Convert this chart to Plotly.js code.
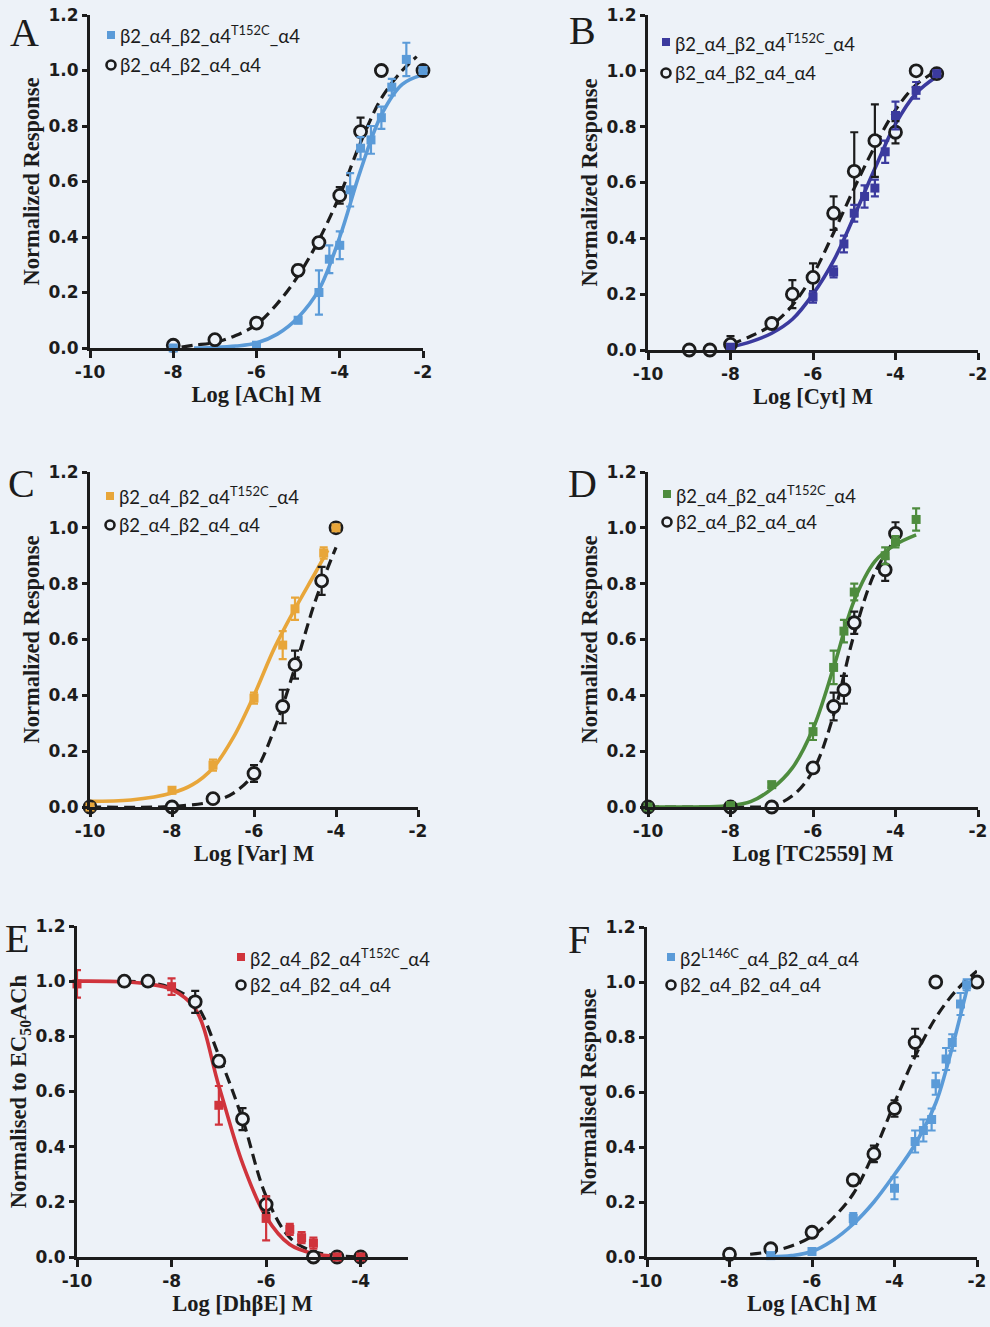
<!DOCTYPE html>
<html>
<head>
<meta charset="utf-8">
<script src="https://cdn.plot.ly/plotly-3.0.1.min.js"></script>
<style>html,body{margin:0;padding:0;background:#edf2f8;}#chart{width:990px;height:1327px;}</style>
</head>
<body>
<div id="chart"></div>
<script>
// ---------- DATA ----------
// Panel A : ACh
const A_wt_x  = [-8, -7, -6, -5, -4.5, -4, -3.5, -3, -2];
const A_wt_y  = [0.01, 0.03, 0.09, 0.28, 0.38, 0.55, 0.78, 1.0, 1.0];
const A_wt_e  = [0.005, 0.01, 0.01, 0.02, 0.02, 0.03, 0.05, 0, 0];
const A_mu_x  = [-8, -6, -5, -4.5, -4.25, -4, -3.75, -3.5, -3.25, -3, -2.75, -2.4, -2];
const A_mu_y  = [0.0, 0.01, 0.10, 0.20, 0.32, 0.37, 0.57, 0.72, 0.75, 0.83, 0.94, 1.04, 1.0];
const A_mu_e  = [0.005, 0.005, 0.01, 0.08, 0.05, 0.05, 0.06, 0.04, 0.05, 0.04, 0.03, 0.06, 0];
const A_wtfit_x = [-7.8, -7.5, -7, -6.5, -6, -5.5, -5, -4.5, -4, -3.5, -3, -2.5, -2.15];
const A_wtfit_y = [0.003, 0.01, 0.02, 0.045, 0.085, 0.16, 0.26, 0.39, 0.55, 0.74, 0.90, 1.0, 1.05];
const A_mufit_x = [-7.5, -7, -6.5, -6, -5.5, -5, -4.5, -4, -3.5, -3, -2.5, -2];
const A_mufit_y = [0, 0.002, 0.007, 0.018, 0.05, 0.11, 0.21, 0.40, 0.64, 0.84, 0.95, 0.985];

// Panel B : Cyt
const B_wt_x  = [-9, -8.5, -8, -7, -6.5, -6, -5.5, -5, -4.5, -4, -3.5, -3];
const B_wt_y  = [0, 0, 0.02, 0.095, 0.20, 0.26, 0.49, 0.64, 0.75, 0.78, 1.0, 0.99];
const B_wt_e  = [0, 0, 0.03, 0.01, 0.05, 0.05, 0.06, 0.14, 0.13, 0.04, 0, 0];
const B_mu_x  = [-8, -6, -5.5, -5.25, -5, -4.75, -4.5, -4.25, -4, -3.5, -3];
const B_mu_y  = [0.01, 0.19, 0.28, 0.38, 0.49, 0.55, 0.58, 0.71, 0.84, 0.93, 0.99];
const B_mu_e  = [0.01, 0.02, 0.02, 0.03, 0.03, 0.04, 0.03, 0.04, 0.05, 0.03, 0.01];
const B_wtfit_x = [-8, -7.5, -7, -6.5, -6, -5.5, -5, -4.5, -4, -3.5, -3];
const B_wtfit_y = [0.02, 0.05, 0.09, 0.16, 0.27, 0.42, 0.58, 0.73, 0.86, 0.95, 1.0];
const B_mufit_x = [-8, -7.5, -7, -6.5, -6, -5.5, -5, -4.5, -4, -3.5, -3];
const B_mufit_y = [0.01, 0.03, 0.06, 0.11, 0.20, 0.32, 0.48, 0.65, 0.81, 0.92, 0.98];

// Panel C : Var
const C_wt_x  = [-10, -8, -7, -6, -5.3, -5, -4.35, -4];
const C_wt_y  = [0, 0, 0.03, 0.12, 0.36, 0.51, 0.81, 1.0];
const C_wt_e  = [0, 0, 0.005, 0.03, 0.06, 0.05, 0.05, 0];
const C_mu_x  = [-10, -8, -7, -6, -5.3, -5, -4.3, -4];
const C_mu_y  = [0, 0.06, 0.15, 0.39, 0.58, 0.71, 0.91, 1.0];
const C_mu_e  = [0, 0.01, 0.02, 0.02, 0.05, 0.04, 0.02, 0];
const C_wtfit_x = [-10, -8, -7, -6.5, -6, -5.5, -5, -4.5, -4];
const C_wtfit_y = [0, 0.002, 0.02, 0.05, 0.12, 0.28, 0.50, 0.74, 0.93];
const C_mufit_x = [-10, -9, -8, -7.5, -7, -6.5, -6, -5.5, -5, -4.5, -4.2];
const C_mufit_y = [0.02, 0.025, 0.05, 0.08, 0.14, 0.25, 0.40, 0.57, 0.71, 0.84, 0.92];

// Panel D : TC2559
const D_wt_x  = [-10, -8, -7, -6, -5.5, -5.25, -5, -4.25, -4];
const D_wt_y  = [0, 0, 0, 0.14, 0.36, 0.42, 0.66, 0.85, 0.98];
const D_wt_e  = [0, 0, 0, 0.01, 0.05, 0.05, 0.04, 0.04, 0.04];
const D_mu_x  = [-10, -8, -7, -6, -5.5, -5.25, -5, -4.25, -4, -3.5];
const D_mu_y  = [0, 0.005, 0.08, 0.27, 0.50, 0.63, 0.77, 0.90, 0.95, 1.03];
const D_mu_e  = [0, 0, 0.01, 0.03, 0.06, 0.04, 0.03, 0.03, 0.02, 0.04];
const D_wtfit_x = [-10, -8, -7, -6.5, -6, -5.5, -5, -4.5, -4, -3.9];
const D_wtfit_y = [0, 0, 0.005, 0.04, 0.13, 0.33, 0.62, 0.84, 0.96, 0.98];
const D_mufit_x = [-10, -8, -7.5, -7, -6.5, -6, -5.5, -5, -4.5, -4, -3.5];
const D_mufit_y = [0, 0.005, 0.02, 0.065, 0.14, 0.28, 0.50, 0.74, 0.88, 0.94, 0.975];

// Panel E : DhβE inhibition
const E_wt_x  = [-9, -8.5, -7.5, -7, -6.5, -6, -5, -4.5, -4];
const E_wt_y  = [1.0, 1.0, 0.925, 0.71, 0.50, 0.19, 0.0, 0.0, 0.0];
const E_wt_e  = [0, 0, 0.04, 0.02, 0.04, 0.03, 0, 0, 0];
const E_mu_x  = [-10, -8, -7, -6, -5.5, -5.25, -5, -4.5, -4];
const E_mu_y  = [0.99, 0.98, 0.55, 0.14, 0.10, 0.07, 0.05, 0.0, 0.0];
const E_mu_e  = [0.05, 0.03, 0.07, 0.08, 0.02, 0.02, 0.02, 0, 0];
const E_wtfit_x = [-9, -8.5, -8, -7.5, -7, -6.5, -6, -5.5, -5, -4.5, -4];
const E_wtfit_y = [1.0, 0.995, 0.975, 0.92, 0.73, 0.50, 0.22, 0.07, 0.02, 0.005, 0.0];
const E_mufit_x = [-10, -9, -8.5, -8, -7.5, -7, -6.5, -6, -5.5, -5, -4.5];
const E_mufit_y = [1.0, 0.998, 0.99, 0.97, 0.90, 0.62, 0.34, 0.145, 0.045, 0.012, 0.003];

// Panel F : ACh, β2 L146C
const F_wt_x  = [-8, -7, -6, -5, -4.5, -4, -3.5, -3, -2];
const F_wt_y  = [0.01, 0.03, 0.09, 0.28, 0.375, 0.54, 0.78, 1.0, 1.0];
const F_wt_e  = [0.005, 0.01, 0.01, 0.02, 0.03, 0.03, 0.05, 0, 0];
const F_mu_x  = [-7, -6, -5, -4, -3.5, -3.3, -3.1, -3, -2.75, -2.6, -2.4, -2.25];
const F_mu_y  = [0.005, 0.02, 0.14, 0.25, 0.42, 0.46, 0.50, 0.63, 0.72, 0.78, 0.92, 0.99];
const F_mu_e  = [0, 0.005, 0.02, 0.04, 0.04, 0.04, 0.04, 0.04, 0.04, 0.03, 0.04, 0.02];
const F_wtfit_x = [-7.5, -7, -6.5, -6, -5.5, -5, -4.5, -4, -3.5, -3, -2.5, -2];
const F_wtfit_y = [0.01, 0.02, 0.04, 0.075, 0.14, 0.23, 0.38, 0.56, 0.73, 0.87, 0.97, 1.04];
const F_mufit_x = [-7, -6.5, -6, -5.5, -5, -4.5, -4, -3.5, -3, -2.75, -2.5, -2.25, -2.2];
const F_mufit_y = [0, 0.005, 0.02, 0.06, 0.12, 0.20, 0.30, 0.41, 0.56, 0.68, 0.82, 0.97, 1.0];

// Labels and ticks
const panelLetters = ['A', 'B', 'C', 'D', 'E', 'F'];
const xTitles = ['Log [ACh] M', 'Log [Cyt] M', 'Log [Var] M', 'Log [TC2559] M', 'Log [DhβE] M', 'Log [ACh] M'];
const yTitles = ['Normalized Response', 'Normalized Response', 'Normalized Response', 'Normalized Response',
                 'Normalised to EC<sub>50</sub>ACh', 'Normalised Response'];
const mutantNames = ['β2_α4_β2_α4<sup>T152C</sup>_α4', 'β2_α4_β2_α4<sup>T152C</sup>_α4', 'β2_α4_β2_α4<sup>T152C</sup>_α4',
                     'β2_α4_β2_α4<sup>T152C</sup>_α4', 'β2_α4_β2_α4<sup>T152C</sup>_α4', 'β2<sup>L146C</sup>_α4_β2_α4_α4'];
const wtName = 'β2_α4_β2_α4_α4';
const xTickVals = [-10, -8, -6, -4, -2];
const xTickText = ['-10', '-8', '-6', '-4', '-2'];
const yTickVals = [0, 0.2, 0.4, 0.6, 0.8, 1.0, 1.2];
const yTickText = ['0.0', '0.2', '0.4', '0.6', '0.8', '1.0', '1.2'];

// ---------- STYLE / LAYOUT ----------
const W = 990, H = 1327;
const BG = '#edf2f8';
const INK = '#1c1c1c';
const mutColors = ['#5b9bd8', '#3b3a9e', '#e8a63a', '#4e8c3e', '#d0343c', '#5b9bd8'];

// pixel boxes of plot areas [left, right, top, bottom] and x range
const boxes = [
  {l: 90,  r: 423, t: 15,  b: 348,  xr: [-10, -2]},
  {l: 648, r: 978, t: 15,  b: 350,  xr: [-10, -2]},
  {l: 90,  r: 418, t: 472, b: 807,  xr: [-10, -2]},
  {l: 648, r: 978, t: 472, b: 807,  xr: [-10, -2]},
  {l: 77,  r: 408, t: 926, b: 1257, xr: [-10, -3]},
  {l: 647, r: 977, t: 927, b: 1257, xr: [-10, -2]}
];
const letterPos = [[24, 28], [582, 26], [21, 480], [582, 479], [17, 934], [579, 935]];
// legend: [markerX, row1Y, row2Y]
const legPos = [[111, 35, 65], [666, 42, 73], [110, 496, 525], [667, 494, 522], [241, 957, 985], [671, 957, 985]];

const sets = [
  [A_wt_x, A_wt_y, A_wt_e, A_mu_x, A_mu_y, A_mu_e, A_wtfit_x, A_wtfit_y, A_mufit_x, A_mufit_y],
  [B_wt_x, B_wt_y, B_wt_e, B_mu_x, B_mu_y, B_mu_e, B_wtfit_x, B_wtfit_y, B_mufit_x, B_mufit_y],
  [C_wt_x, C_wt_y, C_wt_e, C_mu_x, C_mu_y, C_mu_e, C_wtfit_x, C_wtfit_y, C_mufit_x, C_mufit_y],
  [D_wt_x, D_wt_y, D_wt_e, D_mu_x, D_mu_y, D_mu_e, D_wtfit_x, D_wtfit_y, D_mufit_x, D_mufit_y],
  [E_wt_x, E_wt_y, E_wt_e, E_mu_x, E_mu_y, E_mu_e, E_wtfit_x, E_wtfit_y, E_mufit_x, E_mufit_y],
  [F_wt_x, F_wt_y, F_wt_e, F_mu_x, F_mu_y, F_mu_e, F_wtfit_x, F_wtfit_y, F_mufit_x, F_mufit_y]
];

const px = x => x / W;
const py = y => 1 - y / H;

const traces = [];
const layout = {
  width: W, height: H,
  margin: {l: 0, r: 0, t: 0, b: 0},
  paper_bgcolor: BG, plot_bgcolor: BG,
  showlegend: false,
  annotations: [], shapes: []
};

const tickFont = {family: 'DejaVu Sans', size: 17, weight: 'bold', color: INK};
const titleFont = {family: 'Liberation Serif', size: 22.5, weight: 'bold', color: INK};
const legFont = {family: 'Lato', size: 18.5, color: INK};

sets.forEach((s, i) => {
  const [wx, wy, we, mx, my, me, wfx, wfy, mfx, mfy] = s;
  const n = i === 0 ? '' : String(i + 1);
  const xa = 'x' + n, ya = 'y' + n;
  const col = mutColors[i];
  const bx = boxes[i];

  traces.push({x: wfx, y: wfy, xaxis: xa, yaxis: ya, mode: 'lines', type: 'scatter',
    line: {color: INK, width: 3.2, dash: '11px,6px', shape: 'spline', smoothing: 1}, hoverinfo: 'skip', cliponaxis: false});
  traces.push({x: mfx, y: mfy, xaxis: xa, yaxis: ya, mode: 'lines', type: 'scatter',
    line: {color: col, width: 3.6, shape: 'spline', smoothing: 1}, hoverinfo: 'skip', cliponaxis: false});
  traces.push({x: wx, y: wy, xaxis: xa, yaxis: ya, mode: 'markers', type: 'scatter', name: wtName,
    error_y: {type: 'data', array: we, visible: true, color: INK, thickness: 2.2, width: 4},
    marker: {symbol: 'circle', size: 12, color: BG, line: {color: INK, width: 2.8}}, cliponaxis: false});
  traces.push({x: mx, y: my, xaxis: xa, yaxis: ya, mode: 'markers', type: 'scatter', name: mutantNames[i],
    error_y: {type: 'data', array: me, visible: true, color: col, thickness: 2.2, width: 4},
    marker: {symbol: 'square', size: 9, color: col, line: {width: 0}}, cliponaxis: false});

  layout['xaxis' + n] = {
    domain: [px(bx.l), px(bx.r)], anchor: ya, range: bx.xr, tickvals: xTickVals, ticktext: xTickText,
    showline: true, linewidth: 3, linecolor: INK, ticks: 'outside', ticklen: 7, tickwidth: 3, tickcolor: INK,
    showgrid: false, zeroline: false, tickfont: tickFont, fixedrange: true, ticklabeloverflow: 'allow',
    title: {text: xTitles[i], font: titleFont, standoff: 5}
  };
  layout['yaxis' + n] = {
    domain: [py(bx.b), py(bx.t)], anchor: xa, range: [0, 1.2], tickvals: yTickVals, ticktext: yTickText,
    showline: true, linewidth: 3, linecolor: INK, ticks: 'outside', ticklen: 5, tickwidth: 3, tickcolor: INK,
    showgrid: false, zeroline: false, tickfont: tickFont, fixedrange: true, ticklabeloverflow: 'allow',
    title: {text: yTitles[i], font: titleFont, standoff: 3}
  };

  // panel letter
  layout.annotations.push({text: panelLetters[i], xref: 'paper', yref: 'paper',
    x: px(letterPos[i][0]), y: py(letterPos[i][1] + 4), xanchor: 'center', yanchor: 'middle', showarrow: false,
    font: {family: 'Liberation Serif', size: 40, color: INK}});

  // legend
  const [lx, r1, r2] = legPos[i];
  layout.shapes.push({type: 'rect', xref: 'paper', yref: 'paper',
    x0: px(lx - 4), x1: px(lx + 4), y0: py(r1 + 4), y1: py(r1 - 4), fillcolor: col, line: {width: 0}});
  layout.shapes.push({type: 'circle', xref: 'paper', yref: 'paper',
    x0: px(lx - 4.5), x1: px(lx + 4.5), y0: py(r2 + 4.5), y1: py(r2 - 4.5), fillcolor: BG, line: {color: INK, width: 2.6}});
  layout.annotations.push({text: mutantNames[i], xref: 'paper', yref: 'paper', x: px(lx + 7), y: py(r1),
    xanchor: 'left', yanchor: 'middle', showarrow: false, font: legFont});
  layout.annotations.push({text: wtName, xref: 'paper', yref: 'paper', x: px(lx + 7), y: py(r2),
    xanchor: 'left', yanchor: 'middle', showarrow: false, font: legFont});
});

Plotly.newPlot('chart', traces, layout, {staticPlot: true, displayModeBar: false});
</script>
</body>
</html>
